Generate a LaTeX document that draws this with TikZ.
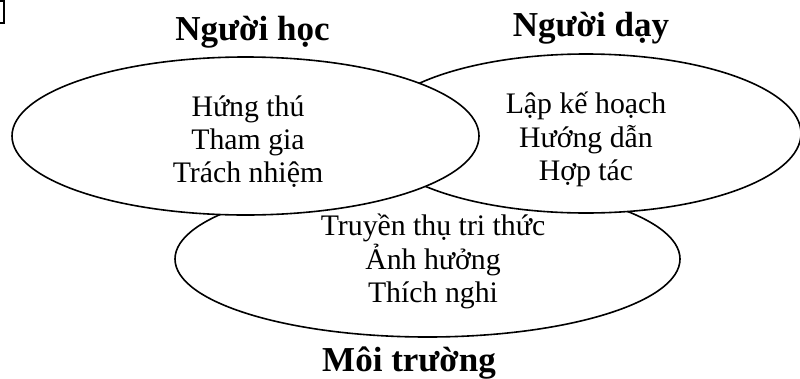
\documentclass[tikz,border=0pt]{standalone}
\usepackage{fontspec}
\setmainfont{Liberation Serif}
\usetikzlibrary{shapes.geometric}
\begin{document}
\begin{tikzpicture}[x=1pt,y=-1pt,
  oval/.style={draw=black, fill=white, line width=1.6pt, ellipse, inner sep=0pt},
  body/.style={anchor=base, inner sep=0pt, font=\fontsize{29.8}{34}\selectfont},
  head/.style={anchor=base, inner sep=0pt, font=\fontsize{35}{40}\selectfont\bfseries},
  frag/.style={draw=black, line width=1.4pt}]
\useasboundingbox (0,0) rectangle (800,378);
% corner fragment
\draw[frag] (0,1) -- (4,1) -- (4,23) -- (0,23);
% ellipses (bottom first, then right, then left on top)
\node[oval, minimum width=505pt, minimum height=156pt] (env) at (427.5,259) {};
\node[oval, minimum width=430pt, minimum height=159pt] (teacher) at (586,133.5) {};
\node[oval, minimum width=467pt, minimum height=158pt] (learner) at (245.5,136) {};
% headings
\node[head] (hl) at (252.5,40) {Người học};
\node[head] (ht) at (591,36) {Người dạy};
\node[head] (he) at (409,371) {Môi trường};
% learner text
\node[body] (l1) at (248,116) {Hứng thú};
\node[body] (l2) at (248,149) {Tham gia};
\node[body] (l3) at (248,182) {Trách nhiệm};
% teacher text
\node[body] (t1) at (586,113) {Lập kế hoạch};
\node[body] (t2) at (586,147) {Hướng dẫn};
\node[body] (t3) at (586,180) {Hợp tác};
% environment text
\node[body] (e1) at (433,235) {Truyền thụ tri thức};
\node[body] (e2) at (433,269) {Ảnh hưởng};
\node[body] (e3) at (433,302) {Thích nghi};
\end{tikzpicture}
\end{document}
